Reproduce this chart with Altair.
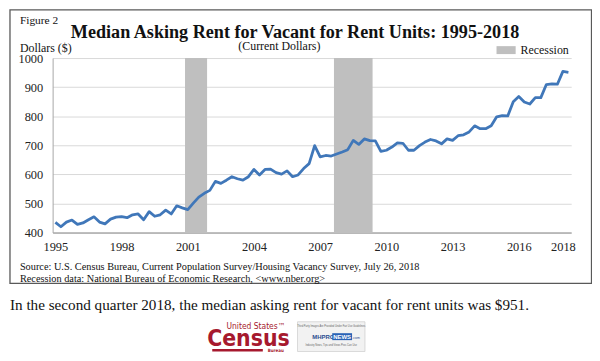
import altair as alt
import pandas as pd

# ---------------- data ----------------
years = list(range(1995, 2019))
rent = [
    435, 420, 436, 443,   # 1995
    428, 433, 444, 454,   # 1996
    436, 430, 446, 453,   # 1997
    455, 451, 461, 464,   # 1998
    444, 472, 456, 461,   # 1999
    477, 464, 492, 485,   # 2000
    479, 501, 522, 535,   # 2001
    545, 576, 569, 580,   # 2002
    592, 585, 580, 592,   # 2003
    617, 598, 617, 618,   # 2004
    606, 601, 612, 592,   # 2005
    598, 620, 637, 699,   # 2006
    660, 665, 663, 670,   # 2007
    677, 685, 717, 703,   # 2008
    722, 716, 715, 679,   # 2009
    683, 694, 708, 707,   # 2010
    683, 683, 699, 711,   # 2011
    720, 715, 705, 722,   # 2012
    717, 733, 736, 746,   # 2013
    767, 757, 757, 767,   # 2014
    798, 802, 801, 850,   # 2015
    868, 849, 842, 864,   # 2016
    864, 909, 911, 910,   # 2017
    954, 951,             # 2018
]
quarter_labels = [f"{y}Q{q}" for y in years for q in range(1, 5)][: len(rent)]
recession_start = [2000.875, 2007.625]
recession_end = [2001.875, 2009.375]
x_tick_years = [1995, 1998, 2001, 2004, 2007, 2010, 2013, 2016, 2018]
y_ticks = [400, 500, 600, 700, 800, 900, 1000]

df = pd.DataFrame({"quarter": quarter_labels, "rent": rent})
df["t"] = df["quarter"].str[:4].astype(int) + (df["quarter"].str[-1].astype(int) - 1) / 4
rec = pd.DataFrame({"start": recession_start, "end": recession_end})

SERIF = "Liberation Serif"
COND = "DejaVu Sans Condensed, Liberation Sans Narrow, Arial Narrow, DejaVu Sans, sans-serif"
W, H = 523, 176
xdom = [1994.875, 2018.375]
xs = alt.Scale(domain=xdom, nice=False, zero=False)
ys = alt.Scale(domain=[400, 1000], nice=False, zero=False)

one = pd.DataFrame({"k": [0]})


def txt(s, x, y, size, align="left", weight="normal", font=SERIF, color="#111111", baseline="alphabetic"):
    return alt.Chart(one).mark_text(
        align=align, baseline=baseline, font=font, fontSize=size, fontWeight=weight, color=color
    ).encode(x=alt.value(x), y=alt.value(y), text=alt.value(s))


def box(x, x2, y, y2, fill, stroke=None, sw=0):
    kw = dict(fill=fill)
    if stroke:
        kw.update(stroke=stroke, strokeWidth=sw)
    return alt.Chart(one).mark_rect(**kw).encode(
        x=alt.value(x), x2=alt.value(x2), y=alt.value(y), y2=alt.value(y2)
    )


bands = alt.Chart(rec).mark_rect(color="#bfbfbf").encode(
    x=alt.X("start:Q", scale=xs,
            axis=alt.Axis(values=x_tick_years, format="d", title=None, grid=False,
                          ticks=False, domainColor="#8c8c8c", domainWidth=1,
                          labelFont=SERIF, labelFontSize=12.5, labelColor="#222222",
                          labelPadding=8)),
    x2="end:Q",
    y=alt.value(0),
    y2=alt.value(H),
)

line = alt.Chart(df).mark_line(color="#4077b9", strokeWidth=2.8, strokeJoin="round").encode(
    x=alt.X("t:Q", scale=xs),
    y=alt.Y("rent:Q", scale=ys,
            axis=alt.Axis(values=y_ticks, format="d", title=None, grid=True, gridColor="#d9d9d9",
                          gridWidth=1, ticks=False, domainColor="#a6a6a6",
                          labelFont=SERIF, labelFontSize=12.5, labelColor="#222222",
                          labelPadding=10)),
)

layers = [
    box(-43, 543.5, -48.5, 227.3, "transparent", "#595959", 1.3),
    bands,
    line,
    txt("Figure 2", -33, -34, 11.5),
    txt("Median Asking Rent for Vacant for Rent Units: 1995-2018", 244.5, -20.5, 18.3, align="center", weight="bold"),
    txt("(Current Dollars)", 228.7, -8, 12, align="center"),
    txt("Dollars ($)", -33, -6.5, 12),
    box(447.7, 467, -12, -4, "#bfbfbf"),
    txt("Recession", 472, -4, 12),
    txt("Source: U.S. Census Bureau, Current Population Survey/Housing Vacancy Survey, July 26, 2018", -33, 213.5, 10.4),
    txt("Recession data: National Bureau of Economic Research, <www.nber.org>", -33, 225.5, 10.4),
    txt("In the second quarter 2018, the median asking rent for vacant for rent units was $951.", -43, 254, 15.3),
    # Census logo
    txt("United States\u2122", 205, 273, 8.5, align="center", font=COND, color="#a6192e"),
    txt("Census", 197.5, 290, 23, align="center", weight="bold", font=COND, color="#a6192e"),
    box(161, 212, 293.5, 296, "#a6192e"),
    txt("Bureau", 225, 296.5, 4.5, align="center", weight="bold", font=COND, color="#a6192e"),
    # MHProNews logo
    box(247, 315, 266, 296, "#f2f2f2", "#d0d0d0", 0.8),
    txt("Third Party Images Are Provided Under Fair Use Guidelines", 281, 271, 2.6, align="center", font="Liberation Sans", color="#666666"),
    txt("MHPRO", 273, 283, 6, align="center", weight="bold", font="Liberation Sans", color="#2a4d8f"),
    box(282, 302, 277.5, 284.5, "#2a62b5"),
    txt("NEWS", 292, 283, 6, align="center", weight="bold", font="Liberation Sans", color="#ffffff"),
    txt(".com", 306, 283, 3.5, align="center", font="Liberation Sans", color="#2a4d8f"),
    txt("Industry News, Tips and Views Pros Can Use", 281, 290, 2.6, align="center", font="Liberation Sans", color="#666666"),
]

chart = alt.layer(*layers).properties(
    width=W, height=H,
    autosize=alt.AutoSizeParams(type="none"),
    padding={"left": 45, "top": 49, "right": 21, "bottom": 119},
    background="white",
).configure_view(stroke=None)

chart.save("out.html", embed_options={"renderer": "svg", "actions": False})
